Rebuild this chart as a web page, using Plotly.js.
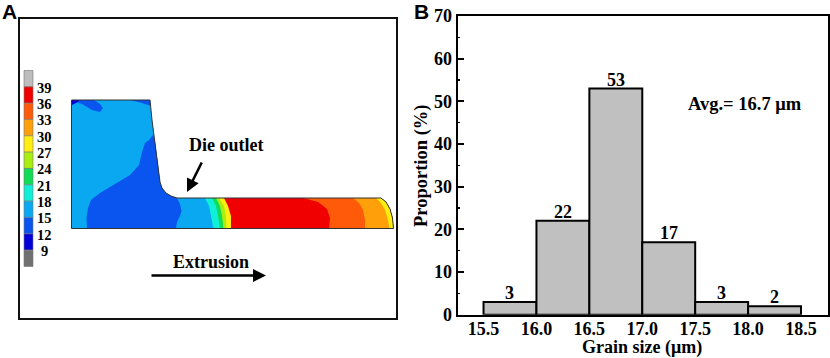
<!DOCTYPE html>
<html><head><meta charset="utf-8">
<script src="https://cdn.plot.ly/plotly-3.0.1.min.js"></script>
<style>html,body{margin:0;padding:0;background:#fff}#c{width:830px;height:358px}</style>
</head><body><div id="c"></div>
<script>
var W=830,H=358;
// Panel B data
var binCentres=[15.75,16.25,16.75,17.25,17.75,18.25];
var proportion=[3,22,53,17,3,2];
var xTicks=[15.5,16,16.5,17,17.5,18,18.5];
var xTickLabels=['15.5','16.0','16.5','17.0','17.5','18.0','18.5'];
var yTicks=[0,10,20,30,40,50,60,70];
var yTickLabels=['0','10','20','30','40','50','60','70'];
// Panel A legend
var legendLabels=['39','36','33','30','27','24','21','18','15','12','9'];
var legendColors=['#BDBDBD','#F00000','#FF5A0A','#FFA00A','#FFEE10','#A8EE10','#10DD55','#10F0D8','#0AA8F0','#0A55F0','#0000D8','#707070'];
// Panel A contour outlines (in panel coordinates)
var tipX=[381,386,390,392.5,393.5];
var tipY=[198,202,209,218,228.5];
var partX=[71.5,150,152,155,158,160,162,166,171,177,381];
var partY=[100,100,120,142,165,182,188,193,196,198,198];
var deepX=[72,80,76,72];
var deepY=[100,100,103,105];
var patchTopLeftX=[72,82,92,100,103,100,94,72];
var patchTopLeftY=[101,104,110,112,108,104,100,100];
var patchTopRightX=[130,150,150.7,142];
var patchTopRightY=[100,100,106,103];
var coreX=[87,86.5,88,91,100,115,130,139,142,145,149,153,155,158,160,162,166,171,177,180,181.5,180,177,176];
var coreY=[228.5,218,208,200,193,184,175,165,152,143,140,135,142,165,182,188,193,196,198,204,211,216,222,228.5];
var bandBoundaries=[
 {color:'#10F0D8',x:[205,209,211,213.5],y:[198,206,216,228.5]},
 {color:'#10DD55',x:[212,216,218,220],y:[198,206,216,228.5]},
 {color:'#A8EE10',x:[216,220,222,223.5],y:[198,206,216,228.5]},
 {color:'#FFEE10',x:[219,224,226,226.5],y:[198,206,216,228.5]},
 {color:'#F00000',x:[224,228,231,231],y:[198,206,216,228.5]},
 {color:'#FF5A0A',x:[303,318,327,330,329],y:[198,202,209,218,228.5]},
 {color:'#FFA00A',x:[353,359,363,365,365],y:[198,203,210,220,228.5]},
 {color:'#FFEE10',x:[376,381,385,388,389.5],y:[198,203,210,220,228.5]}
];
var baseBlue='#0AA8F0',coreBlue='#0A55F0',deepBlue='#0000D8';

var serif='"Liberation Serif",serif',sans='"Liberation Sans",sans-serif';
function poly(x,y,color){return {type:'scatter',mode:'none',x:x,y:y,fill:'toself',fillcolor:color,xaxis:'x2',yaxis:'y2',hoverinfo:'skip',showlegend:false};}
var px=partX.concat(tipX.slice(1)).concat([71.5,71.5]);
var py=partY.concat(tipY.slice(1)).concat([228.5,100]);
var traces=[];
traces.push(poly(px,py,baseBlue));
traces.push(poly(coreX,coreY,coreBlue));
traces.push(poly(patchTopLeftX,patchTopLeftY,coreBlue));
traces.push(poly(patchTopRightX,patchTopRightY,coreBlue));
traces.push(poly(deepX,deepY,deepBlue));
bandBoundaries.forEach(function(b){
  var x=b.x.slice(),y=b.y.slice();
  var rx=[],ry=[];
  for(var i=tipX.length-1;i>=0;i--){ if(tipX[i]>x[0]||i==0){rx.push(tipX[i]);ry.push(tipY[i]);} }
  traces.push(poly(x.concat(rx),y.concat(ry),b.color));
});
traces.push({type:'scatter',mode:'lines',x:px,y:py,line:{color:'#333',width:1},xaxis:'x2',yaxis:'y2',hoverinfo:'skip',showlegend:false});
var segH=16.33,legTop=70.5;
legendColors.forEach(function(c,i){
  traces.push({type:'bar',x:[28.5],y:[segH],base:[legTop+segH*i],width:[9],marker:{color:c,line:{color:'#777',width:0.6}},xaxis:'x2',yaxis:'y2',hoverinfo:'skip',showlegend:false});
});
traces.push({type:'bar',x:binCentres,y:proportion,width:0.5,cliponaxis:false,
  marker:{color:'#C0C0C0',line:{color:'#000',width:2}},xaxis:'x',yaxis:'y',showlegend:false,hoverinfo:'skip'});

function note(t,x,y,size){return {text:t,x:x,y:y,xref:'x2',yref:'y2',showarrow:false,font:{family:serif,size:size,color:'#000'},xanchor:'center',yanchor:'middle'};}
function paperNote(t,xp,yp,fam,size,angle){return {text:'<b>'+t+'</b>',x:xp/W,y:1-yp/H,xref:'paper',yref:'paper',showarrow:false,xanchor:'center',yanchor:'middle',textangle:angle||0,font:{family:fam,size:size,color:'#000'}};}
var ann=[];
legendLabels.forEach(function(l,i){ann.push(note('<b>'+l+'</b>',44.5,legTop+segH*(i+1)+1,14.5));});
ann.push(note('<b>Die outlet</b>',225.5,145,18));
ann.push(note('<b>Extrusion</b>',210.5,262,18));
ann.push({x:187,y:192,ax:202.5,ay:161,xref:'x2',yref:'y2',axref:'x2',ayref:'y2',showarrow:true,arrowhead:2,arrowsize:1,arrowwidth:2.6,arrowcolor:'#000',text:''});
ann.push({x:266,y:275.5,ax:150,ay:275.5,xref:'x2',yref:'y2',axref:'x2',ayref:'y2',showarrow:true,arrowhead:2,arrowsize:1,arrowwidth:2.6,arrowcolor:'#000',text:''});
ann.push(paperNote('A',9.5,11,sans,21));
ann.push(paperNote('B',421,11,sans,21));
ann.push(paperNote('Grain size (μm)',642,347.5,serif,18));
ann.push(paperNote('Proportion (%)',421,166,serif,18.5,-90));
ann.push({text:'<b>Avg.= 16.7 μm</b>',x:17.97,y:49.4,xref:'x',yref:'y',showarrow:false,xanchor:'center',yanchor:'middle',font:{family:serif,size:18.5,color:'#000'}});
binCentres.forEach(function(c,i){
  ann.push({text:'<b>'+proportion[i]+'</b>',x:c,y:proportion[i],xref:'x',yref:'y',showarrow:false,xanchor:'center',yanchor:'bottom',yshift:-3,font:{family:serif,size:18,color:'#000'}});
});

var layout={width:W,height:H,margin:{l:0,r:0,t:0,b:0},paper_bgcolor:'#fff',plot_bgcolor:'rgba(0,0,0,0)',showlegend:false,barmode:'overlay',bargap:0,
 xaxis:{domain:[457.5/W,827.7/W],range:[15.254,18.752],tickmode:'array',tickvals:xTicks,ticktext:xTickLabels.map(function(s){return '<b>'+s+'</b>';}),ticks:'',showgrid:false,zeroline:false,showline:true,mirror:true,linecolor:'#000',linewidth:2,anchor:'y',
   tickfont:{family:serif,size:18,color:'#000'},ticklabelstandoff:-3},
 yaxis:{domain:[1-314.7/H,1-16/H],range:[0,70],tickmode:'array',tickvals:yTicks,ticktext:yTickLabels.map(function(s){return '<b>'+s+'</b>';}),ticks:'inside',ticklen:6,tickwidth:2,tickcolor:'#000',showgrid:false,zeroline:false,showline:true,mirror:true,linecolor:'#000',linewidth:2,anchor:'x',
   tickfont:{family:serif,size:18,color:'#000'},minor:{dtick:5,tick0:5,ticks:'inside',ticklen:2.5,tickwidth:1.5,tickcolor:'#000',showgrid:false}},
 xaxis2:{domain:[19.5/W,396/W],range:[19.5,396],visible:true,showticklabels:false,ticks:'',showgrid:false,zeroline:false,showline:true,mirror:true,linecolor:'#111',linewidth:2,anchor:'y2',fixedrange:true},
 yaxis2:{domain:[1-317.7/H,1-19.3/H],range:[317.7,19.3],visible:true,showticklabels:false,ticks:'',showgrid:false,zeroline:false,showline:true,mirror:true,linecolor:'#111',linewidth:2,anchor:'x2',fixedrange:true},
 annotations:ann};
Plotly.newPlot('c',traces,layout,{displayModeBar:false,staticPlot:true});
</script></body></html>
